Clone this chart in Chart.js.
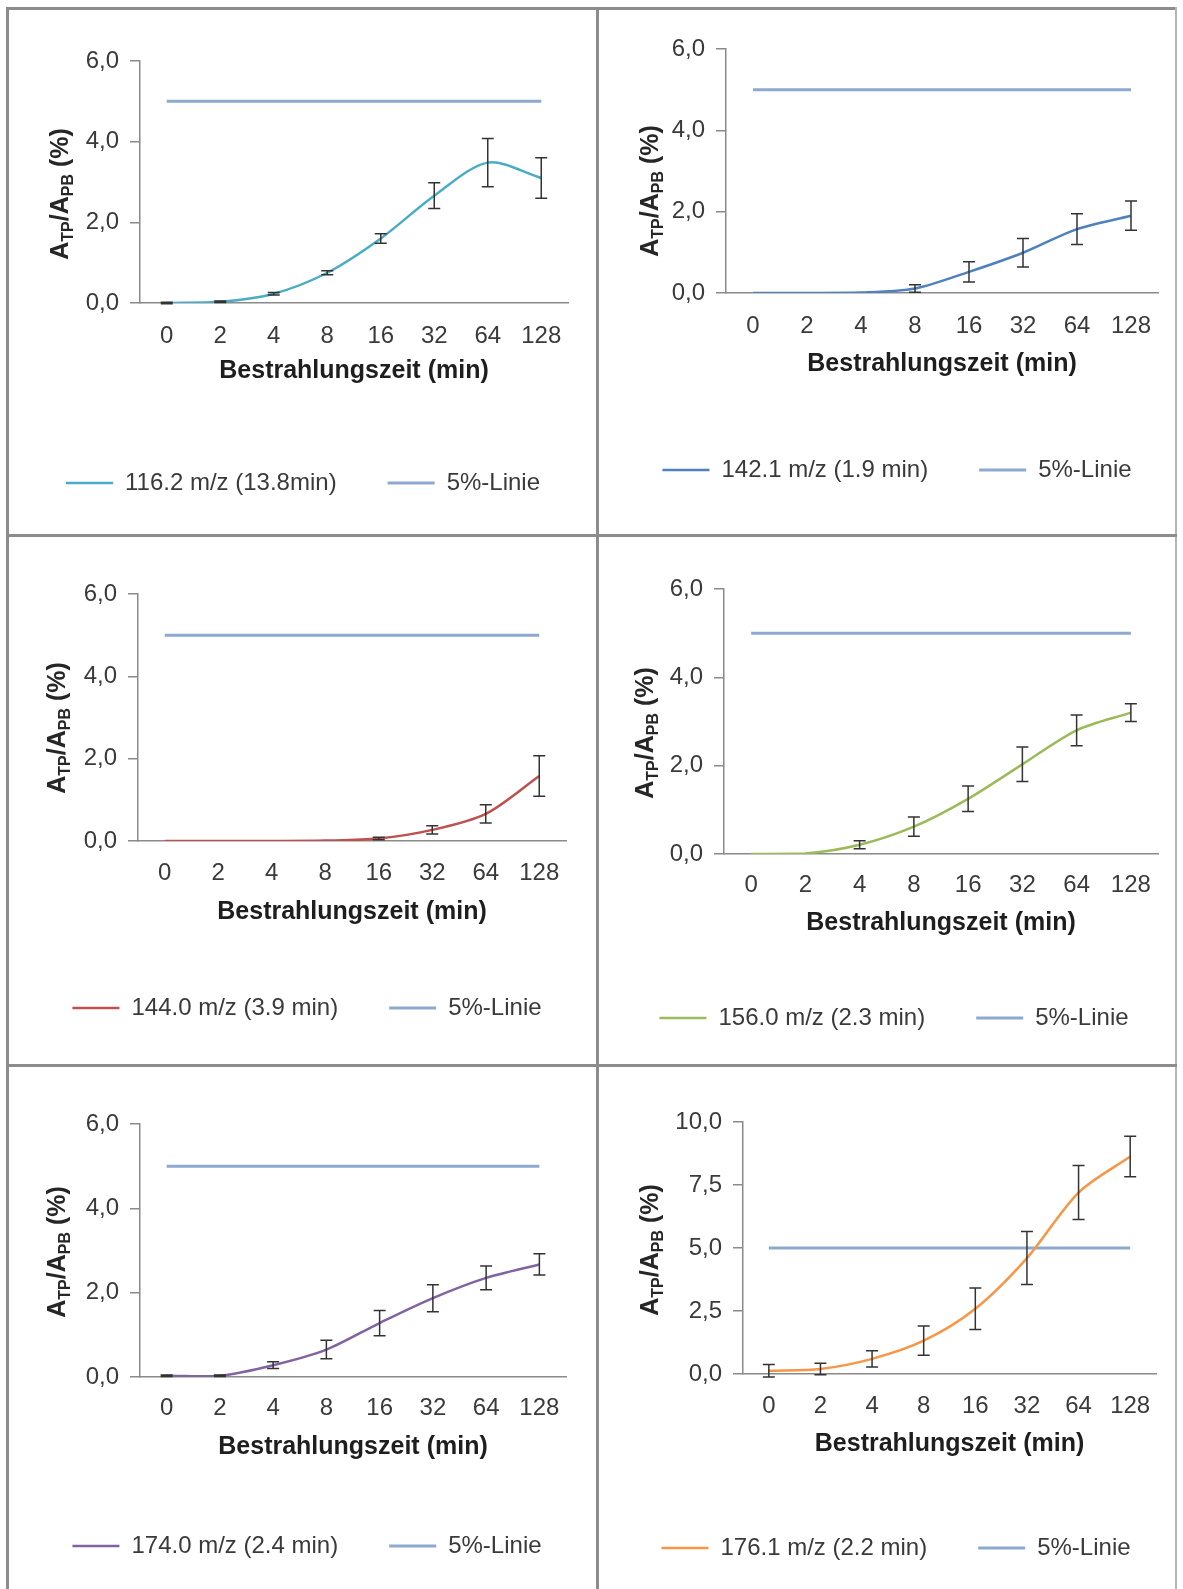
<!DOCTYPE html>
<html>
<head>
<meta charset="utf-8">
<script src="https://cdn.jsdelivr.net/npm/chart.js@4.4.1/dist/chart.umd.min.js"></script>
<style>
  body { margin: 0; background: #fff; }
  #sheet { position: relative; width: 1183px; height: 1589px; overflow: hidden; background: #fff; }
  #sheet canvas { position: absolute; }
  .rule { position: absolute; background: #8c8c8c; z-index: 2; }
</style>
</head>
<body>
<div id="sheet"></div>
<script>
// x categories (Bestrahlungszeit in min)
const timeLabels = ["0", "2", "4", "8", "16", "32", "64", "128"];
const limitValues = [5, 5, 5, 5, 5, 5, 5, 5];

// A_TP/A_PB in % with standard deviations
const mz116Values = [0.0, 0.03, 0.23, 0.75, 1.6, 2.66, 3.48, 3.1];
const mz116Errors = [0.02, 0.02, 0.03, 0.05, 0.12, 0.32, 0.6, 0.5];
const mz142Values = [0.0, 0.0, 0.01, 0.11, 0.52, 0.99, 1.57, 1.9];
const mz142Errors = [0, 0, 0, 0.09, 0.25, 0.35, 0.38, 0.36];
const mz144Values = [0.0, 0.0, 0.0, 0.01, 0.06, 0.27, 0.66, 1.58];
const mz144Errors = [0, 0, 0, 0, 0.03, 0.1, 0.22, 0.49];
const mz156Values = [0.0, 0.01, 0.21, 0.62, 1.25, 2.03, 2.8, 3.2];
const mz156Errors = [0, 0, 0.09, 0.22, 0.29, 0.39, 0.35, 0.2];
const mz174Values = [0.03, 0.03, 0.28, 0.65, 1.28, 1.87, 2.35, 2.67];
const mz174Errors = [0.02, 0.02, 0.08, 0.22, 0.3, 0.32, 0.28, 0.25];
const mz176Values = [0.13, 0.2, 0.6, 1.32, 2.59, 4.6, 7.2, 8.63];
const mz176Errors = [0.25, 0.23, 0.32, 0.58, 0.82, 1.05, 1.07, 0.8];

const seriesNames = [
  "116.2 m/z (13.8min)",
  "142.1 m/z (1.9 min)",
  "144.0 m/z (3.9 min)",
  "156.0 m/z (2.3 min)",
  "174.0 m/z (2.4 min)",
  "176.1 m/z (2.2 min)",
];
const limitName = "5%-Linie";
const xTitle = "Bestrahlungszeit (min)";

const FONT = "'Liberation Sans', Arial, sans-serif";
const LIMIT_COLOR = "#8ea9cf";
const AXIS_COLOR = "#8a8a8a";

// panel geometry on the sheet (absolute px)
const panels = [
  { values: mz116Values, errors: mz116Errors, color: "#4bacc6", yMax: 6, yStep: 2,
    px: 7, py: 8, ph: 528, axisX: 140, topY: 61, bottomY: 303, rightX: 568,
    labelY: 336, titleY: 371, legendY: 483, legendX: 303, yTitleX: 59, yTitleY: 194 },
  { values: mz142Values, errors: mz142Errors, color: "#4f81bd", yMax: 6, yStep: 2,
    px: 597, py: 8, ph: 528, axisX: 726, topY: 49, bottomY: 293, rightX: 1158,
    labelY: 326, titleY: 364, legendY: 470, legendX: 897, yTitleX: 649, yTitleY: 191 },
  { values: mz144Values, errors: mz144Errors, color: "#c0504d", yMax: 6, yStep: 2,
    px: 7, py: 536, ph: 530, axisX: 138, topY: 594, bottomY: 841, rightX: 566,
    labelY: 873, titleY: 912, legendY: 1008, legendX: 307, yTitleX: 56, yTitleY: 728 },
  { values: mz156Values, errors: mz156Errors, color: "#9bbb59", yMax: 6, yStep: 2,
    px: 597, py: 536, ph: 530, axisX: 724, topY: 589, bottomY: 854, rightX: 1158,
    labelY: 885, titleY: 923, legendY: 1018, legendX: 894, yTitleX: 644, yTitleY: 733 },
  { values: mz174Values, errors: mz174Errors, color: "#8064a2", yMax: 6, yStep: 2,
    px: 7, py: 1066, ph: 523, axisX: 140, topY: 1124, bottomY: 1377, rightX: 566,
    labelY: 1408, titleY: 1447, legendY: 1546, legendX: 307, yTitleX: 56, yTitleY: 1252 },
  { values: mz176Values, errors: mz176Errors, color: "#f79646", yMax: 10, yStep: 2.5,
    px: 597, py: 1066, ph: 523, axisX: 743, topY: 1122, bottomY: 1374, rightX: 1156,
    labelY: 1406, titleY: 1444, legendY: 1548, legendX: 896, yTitleX: 649, yTitleY: 1250 },
];

const sheet = document.getElementById("sheet");

function addRule(x, y, w, h, color) {
  const d = document.createElement("div");
  d.className = "rule";
  d.style.left = x + "px";
  d.style.top = y + "px";
  d.style.width = w + "px";
  d.style.height = h + "px";
  if (color) d.style.background = color;
  sheet.appendChild(d);
}

// error bars drawn through the chart's own scales
const errorBars = {
  id: "errorBars",
  afterDatasetsDraw(chart) {
    const errs = chart.$errors;
    if (!errs) return;
    const meta = chart.getDatasetMeta(0);
    const yScale = chart.scales.y;
    const vals = chart.data.datasets[0].data;
    const ctx = chart.ctx;
    ctx.save();
    ctx.strokeStyle = "#333333";
    ctx.lineWidth = 1.5;
    meta.data.forEach((pt, i) => {
      const e = errs[i];
      if (!e) return;
      const yTop = yScale.getPixelForValue(vals[i] + e);
      const yBot = yScale.getPixelForValue(vals[i] - e);
      const x = pt.x;
      ctx.beginPath();
      ctx.moveTo(x, yTop);
      ctx.lineTo(x, yBot);
      ctx.moveTo(x - 6, yTop);
      ctx.lineTo(x + 6, yTop);
      ctx.moveTo(x - 6, yBot);
      ctx.lineTo(x + 6, yBot);
      ctx.stroke();
    });
    ctx.restore();
  },
};

// rotated y title with subscripts: A_TP/A_PB (%)
const yTitle = {
  id: "yTitleSub",
  afterDraw(chart) {
    const pos = chart.$yTitlePos;
    if (!pos) return;
    const ctx = chart.ctx;
    const big = "bold 25px " + FONT;
    const small = "bold 16px " + FONT;
    const parts = [
      ["A", big, 0], ["TP", small, 5], ["/A", big, 0], ["PB", small, 5], [" (%)", big, 0],
    ];
    ctx.save();
    let total = 0;
    parts.forEach((p) => { ctx.font = p[1]; total += ctx.measureText(p[0]).width; });
    ctx.translate(pos.x, pos.y);
    ctx.rotate(-Math.PI / 2);
    ctx.fillStyle = "#262626";
    ctx.textBaseline = "alphabetic";
    ctx.textAlign = "left";
    let cx = -total / 2;
    parts.forEach((p) => {
      ctx.font = p[1];
      ctx.fillText(p[0], cx, 9 + p[2]);
      cx += ctx.measureText(p[0]).width;
    });
    ctx.restore();
  },
};

function initPanel(p, idx) {
  // canvas is centred on the legend so the legend can use the full width
  const cw = 2 * (p.legendX - p.px);
  const canvas = document.createElement("canvas");
  canvas.width = cw;
  canvas.height = p.ph;
  canvas.style.left = p.px + "px";
  canvas.style.top = p.py + "px";
  sheet.appendChild(canvas);

  const tickFont = 24;
  const titleFont = 25;
  const legendFont = 24;
  const legendPad = 51;

  const padTop = p.topY - p.py;
  const yAxisWidth = p.axisX - p.px;
  const rightGap = p.px + cw - p.rightX;
  const legendH = legendFont + legendPad + 10;
  const legendTop = p.legendY - p.py - legendPad - legendFont / 2;
  const padBottom = p.ph - (legendTop + legendH);
  const xAxisH = legendTop - (p.bottomY - p.py);
  const tickPad = p.labelY - p.bottomY - (tickFont * 1.2) / 2;
  const titlePB = legendTop - (p.titleY - p.py) - (titleFont * 1.2) / 2;
  const titlePT = xAxisH - (tickFont * 1.2 + tickPad + titleFont * 1.2 + titlePB);

  const chart = new Chart(canvas, {
    type: "line",
    data: {
      labels: timeLabels,
      datasets: [
        {
          label: seriesNames[idx],
          data: p.values,
          borderColor: p.color,
          backgroundColor: p.color,
          borderWidth: 2.5,
          pointRadius: 0,
          tension: 0.3,
        },
        {
          label: limitName,
          data: limitValues,
          borderColor: LIMIT_COLOR,
          backgroundColor: LIMIT_COLOR,
          borderWidth: 3,
          pointRadius: 0,
          tension: 0,
        },
      ],
    },
    options: {
      responsive: false,
      animation: false,
      layout: {
        padding: { top: padTop, right: 0, bottom: padBottom, left: 0 },
      },
      plugins: {
        legend: {
          position: "bottom",
          labels: {
            usePointStyle: true,
            pointStyle: "line",
            pointStyleWidth: 47,
            padding: legendPad,
            color: "#3a3a3a",
            font: { family: FONT, size: legendFont },
          },
        },
        tooltip: { enabled: false },
      },
      scales: {
        x: {
          offset: true,
          grid: { display: false, drawTicks: false },
          border: { display: true, color: AXIS_COLOR, width: 1.5 },
          ticks: {
            color: "#3a3a3a",
            padding: tickPad,
            maxRotation: 0,
            font: { family: FONT, size: tickFont },
          },
          title: {
            display: true,
            text: xTitle,
            color: "#1e1e1e",
            padding: { top: titlePT, bottom: titlePB },
            font: { family: FONT, size: titleFont, weight: "bold" },
          },
          afterFit(scale) { scale.height = xAxisH; },
        },
        y: {
          min: 0,
          max: p.yMax,
          grid: {
            drawOnChartArea: false,
            drawTicks: true,
            tickLength: 10,
            color: AXIS_COLOR,
            lineWidth: 1.5,
          },
          border: { display: true, color: AXIS_COLOR, width: 1.5 },
          ticks: {
            stepSize: p.yStep,
            padding: 11,
            color: "#3a3a3a",
            font: { family: FONT, size: tickFont },
            callback: function (value) {
              return Number(value).toFixed(1).replace(".", ",");
            },
          },
          afterFit(scale) { scale.width = yAxisWidth; },
        },
        // empty spacer on the right, keeps the plot area narrower than the legend
        spacer: {
          type: "linear",
          position: "right",
          grid: { display: false, drawTicks: false },
          border: { display: false },
          ticks: { display: false },
          afterFit(scale) { scale.width = rightGap; },
        },
      },
    },
    plugins: [errorBars, yTitle],
  });
  chart.$errors = p.errors;
  chart.$yTitlePos = { x: p.yTitleX - p.px, y: p.yTitleY - p.py };
  chart.draw();
}

panels.forEach(initPanel);

// sheet frame and cell dividers
addRule(6, 7, 3, 1582);
addRule(6, 7, 1171, 3);
addRule(1175, 7, 2, 1582, "#b5b5b5");
addRule(596, 7, 3, 1582);
addRule(6, 534, 1171, 3);
addRule(6, 1064, 1171, 3);
</script>
</body>
</html>
